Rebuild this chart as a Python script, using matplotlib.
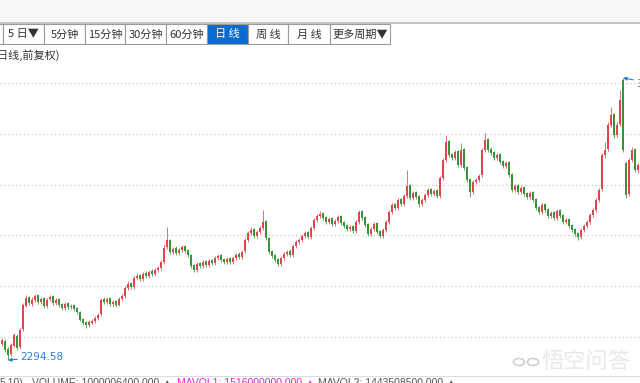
import matplotlib
matplotlib.use("Agg")
import matplotlib.pyplot as plt
from matplotlib.patches import Rectangle, Ellipse
import numpy as np

plt.rcParams["font.family"] = ["Noto Sans CJK SC", "DejaVu Sans"]

# daily candles (index points)
opens = [
    2360, 2370, 2340, 2320, 2352, 2390, 2345, 2418, 2512, 2545,
    2520, 2533, 2553, 2525, 2541, 2509, 2537, 2549, 2521, 2537,
    2517, 2501, 2521, 2505, 2513, 2501, 2485, 2457, 2445, 2433,
    2443, 2449, 2461, 2477, 2537, 2525, 2541, 2517, 2529, 2513,
    2537, 2549, 2581, 2601, 2585, 2621, 2633, 2617, 2641, 2629,
    2649, 2637, 2653, 2661, 2685, 2745, 2773, 2725, 2741, 2721,
    2733, 2749, 2733, 2713, 2673, 2653, 2681, 2669, 2689, 2673,
    2693, 2681, 2701, 2713, 2697, 2685, 2701, 2685, 2701, 2717,
    2705, 2729, 2773, 2801, 2817, 2789, 2805, 2821, 2849, 2781,
    2729, 2713, 2697, 2677, 2701, 2717, 2729, 2713, 2749, 2765,
    2773, 2789, 2805, 2785, 2821, 2853, 2869, 2881, 2865, 2845,
    2861, 2837, 2849, 2869, 2845, 2833, 2817, 2829, 2809, 2845,
    2889, 2865, 2837, 2797, 2817, 2841, 2809, 2789, 2813, 2845,
    2885, 2917, 2901, 2937, 2917, 2949, 2993, 2941, 2965, 2949,
    2917, 2933, 2953, 2977, 2957, 2973, 2949, 3021, 3093, 3169,
    3117, 3101, 3129, 3073, 3137, 3065, 3017, 2965, 3005, 3013,
    3033, 3133, 3177, 3137, 3125, 3101, 3117, 3089, 3069, 3085,
    3037, 2973, 2993, 2965, 2985, 2961, 2945, 2965, 2937, 2905,
    2885, 2917, 2897, 2869, 2885, 2861, 2893, 2873, 2845, 2857,
    2833, 2817, 2801, 2785, 2813, 2829, 2845, 2873, 2893, 2933,
    2977, 3113, 3137, 3233, 3277, 3193, 3237, 3415, 3083, 2957,
    3093, 3137, 3053,
]
highs = [
    2383, 2378, 2348, 2362, 2404, 2398, 2422, 2524, 2556, 2552,
    2545, 2560, 2559, 2548, 2547, 2542, 2556, 2555, 2543, 2544,
    2523, 2527, 2528, 2518, 2519, 2506, 2490, 2463, 2450, 2454,
    2458, 2469, 2482, 2543, 2546, 2548, 2547, 2535, 2536, 2545,
    2559, 2590, 2609, 2608, 2631, 2641, 2640, 2646, 2650, 2655,
    2657, 2662, 2672, 2694, 2760, 2827, 2780, 2747, 2749, 2742,
    2756, 2755, 2739, 2718, 2679, 2686, 2688, 2694, 2695, 2698,
    2700, 2710, 2720, 2719, 2703, 2706, 2708, 2710, 2724, 2725,
    2734, 2782, 2812, 2826, 2824, 2815, 2832, 2895, 2856, 2787,
    2735, 2719, 2703, 2709, 2726, 2735, 2737, 2758, 2775, 2784,
    2799, 2812, 2811, 2830, 2863, 2880, 2889, 2888, 2871, 2866,
    2867, 2858, 2875, 2875, 2851, 2839, 2834, 2835, 2854, 2895,
    2895, 2871, 2842, 2826, 2846, 2847, 2815, 2822, 2854, 2895,
    2923, 2923, 2942, 2943, 2958, 3055, 2999, 2971, 2971, 2955,
    2942, 2962, 2983, 2984, 2979, 2979, 3031, 3103, 3195, 3176,
    3124, 3135, 3135, 3163, 3143, 3071, 3023, 3014, 3023, 3039,
    3143, 3203, 3183, 3145, 3131, 3123, 3123, 3095, 3091, 3091,
    3043, 2999, 2999, 2991, 2991, 2967, 2971, 2971, 2943, 2911,
    2923, 2923, 2903, 2891, 2891, 2899, 2899, 2879, 2863, 2863,
    2839, 2823, 2807, 2823, 2839, 2855, 2883, 2903, 2943, 2983,
    3123, 3167, 3247, 3307, 3283, 3247, 3375, 3423, 3091, 3103,
    3147, 3143, 3083,
]
lows = [
    2352, 2327, 2294.58, 2312, 2346, 2333, 2340, 2412, 2506, 2514,
    2512, 2527, 2518, 2519, 2503, 2503, 2531, 2515, 2514, 2508,
    2495, 2496, 2500, 2499, 2492, 2480, 2449, 2436, 2423, 2428,
    2437, 2444, 2455, 2472, 2520, 2518, 2512, 2511, 2508, 2509,
    2531, 2544, 2575, 2580, 2580, 2615, 2611, 2612, 2624, 2623,
    2632, 2631, 2647, 2655, 2680, 2738, 2720, 2718, 2716, 2715,
    2727, 2724, 2708, 2663, 2647, 2648, 2664, 2663, 2668, 2667,
    2676, 2675, 2695, 2688, 2680, 2679, 2680, 2679, 2695, 2700,
    2699, 2723, 2767, 2795, 2784, 2783, 2799, 2815, 2776, 2719,
    2703, 2688, 2671, 2672, 2695, 2711, 2708, 2707, 2743, 2759,
    2767, 2783, 2780, 2779, 2815, 2847, 2863, 2856, 2840, 2839,
    2832, 2831, 2843, 2836, 2824, 2812, 2811, 2804, 2803, 2839,
    2856, 2828, 2791, 2791, 2811, 2800, 2783, 2783, 2807, 2839,
    2879, 2896, 2895, 2912, 2911, 2943, 2935, 2935, 2940, 2907,
    2911, 2927, 2947, 2952, 2951, 2944, 2943, 3015, 3087, 3107,
    3095, 3095, 3067, 3067, 3055, 3007, 2947, 2959, 2999, 3007,
    3027, 3127, 3127, 3115, 3095, 3095, 3079, 3063, 3063, 3027,
    2967, 2967, 2959, 2959, 2951, 2939, 2939, 2927, 2895, 2879,
    2879, 2887, 2863, 2863, 2855, 2855, 2863, 2839, 2839, 2823,
    2807, 2791, 2775, 2779, 2807, 2823, 2839, 2867, 2887, 2927,
    2971, 3103, 3131, 3225, 3183, 3187, 3231, 3125, 2943, 2951,
    3087, 3047, 3043,
]
closes = [
    2375, 2335, 2315, 2355, 2395, 2343, 2415, 2515, 2543, 2523,
    2535, 2551, 2527, 2539, 2511, 2535, 2547, 2523, 2535, 2515,
    2503, 2519, 2507, 2511, 2499, 2487, 2455, 2443, 2435, 2447,
    2451, 2463, 2475, 2535, 2527, 2539, 2519, 2527, 2515, 2539,
    2551, 2583, 2599, 2587, 2623, 2631, 2619, 2639, 2631, 2647,
    2639, 2655, 2663, 2687, 2743, 2775, 2727, 2739, 2723, 2735,
    2747, 2731, 2715, 2671, 2655, 2679, 2671, 2687, 2675, 2691,
    2683, 2703, 2711, 2695, 2687, 2699, 2687, 2703, 2715, 2707,
    2727, 2775, 2803, 2815, 2791, 2807, 2823, 2847, 2783, 2727,
    2711, 2695, 2679, 2703, 2719, 2727, 2715, 2751, 2767, 2775,
    2791, 2803, 2787, 2823, 2855, 2871, 2879, 2863, 2847, 2859,
    2839, 2851, 2867, 2843, 2831, 2819, 2827, 2811, 2847, 2887,
    2863, 2835, 2799, 2819, 2839, 2807, 2791, 2815, 2847, 2887,
    2915, 2903, 2935, 2919, 2951, 2991, 2943, 2963, 2947, 2919,
    2935, 2955, 2975, 2959, 2971, 2951, 3023, 3095, 3167, 3115,
    3103, 3127, 3075, 3135, 3063, 3015, 2967, 3007, 3015, 3031,
    3135, 3175, 3135, 3123, 3103, 3115, 3087, 3071, 3083, 3035,
    2975, 2991, 2967, 2983, 2959, 2947, 2963, 2935, 2903, 2887,
    2915, 2895, 2871, 2883, 2863, 2891, 2871, 2847, 2855, 2831,
    2815, 2799, 2787, 2815, 2831, 2847, 2875, 2895, 2935, 2975,
    3115, 3135, 3235, 3275, 3195, 3235, 3335, 3135, 2955, 3095,
    3135, 3055, 3075,
]
grid_levels = [2387, 2590, 2793, 2996, 3199, 3402]

tabs = ["", "5 日▼", "5分钟", "15分钟", "30分钟", "60分钟", "日 线", "周 线", "月 线", "更多周期▼"]
active_tab = "日 线"
subtitle = "日线,前复权)"
volume_parts = [
    ("5.10)", "#555555"),
    ("VOLUME: 1000006400.000 ▲", "#555555"),
    ("MAVOL1: 1516000000.000 ▲", "#e020d8"),
    ("MAVOL2: 1443508500.000 ▲", "#555555"),
]
watermark = "悟空问答"

RED = "#e5444f"
GREEN = "#3a923a"
BLUE = "#2a7fd4"

fig = plt.figure(figsize=(6.4, 3.83), dpi=100)
fig.patch.set_facecolor("white")

# price panel
W, H = 640.0, 383.0
top_px, bot_px = 62.0, 366.0
ax = fig.add_axes([0, (H - bot_px) / H, 1, (bot_px - top_px) / H])
ax.set_facecolor("white")

o = np.array(opens, dtype=float)
h = np.array(highs, dtype=float)
l = np.array(lows, dtype=float)
c = np.array(closes, dtype=float)
idx = np.arange(len(c))
colors = np.where(c >= o, RED, GREEN)

ax.vlines(idx, l, h, colors=colors, linewidth=0.55, zorder=3)
body_bottom = np.minimum(o, c)
body_height = np.maximum(np.abs(c - o), 2.5)
ax.bar(idx, body_height, bottom=body_bottom, width=0.55, color=colors,
       linewidth=0, zorder=4)

ax.set_xlim(-2 / 3, len(c) - 1 + 2 / 3)
ax.set_ylim(3735 - 4 * bot_px, 3735 - 4 * top_px)
ax.set_yticks(grid_levels)
ax.yaxis.grid(True, color="#bdbdbd", linestyle=(0, (1, 2.5)), linewidth=0.8)
ax.tick_params(left=False, labelleft=False, bottom=False, labelbottom=False)
for s in ax.spines.values():
    s.set_visible(False)

i_lo = int(np.argmin(l))
ax.annotate(f"{l[i_lo]:.2f}", xy=(i_lo, l[i_lo]), xytext=(12, 3),
            textcoords="offset pixels", ha="left", va="center",
            fontsize=7.5, color=BLUE, family="DejaVu Sans",
            arrowprops=dict(arrowstyle="-|>", color=BLUE, lw=0.8,
                            mutation_scale=5, shrinkA=0, shrinkB=0),
            zorder=6)
i_hi = int(np.argmax(h))
ax.annotate(f"{h[i_hi]:.2f}", xy=(i_hi, h[i_hi]), xytext=(13, -6),
            textcoords="offset pixels", ha="left", va="center",
            fontsize=7.5, color=BLUE, family="DejaVu Sans",
            arrowprops=dict(arrowstyle="-|>", color=BLUE, lw=0.8,
                            mutation_scale=5, shrinkA=0, shrinkB=0),
            annotation_clip=False, zorder=6)

# interface chrome in pixel coordinates
ui = fig.add_axes([0, 0, 1, 1], zorder=5)
ui.set_xlim(0, W)
ui.set_ylim(H, 0)
ui.axis("off")
ui.patch.set_visible(False)

ui.add_patch(Rectangle((0, 0), W, 22, facecolor="#f8f8f8", edgecolor="none"))
ui.plot([0, W], [22.5, 22.5], color="#c4c4c4", linewidth=1.5)

tab_edges = [-5, 3, 44, 85, 125, 166, 207, 248, 288, 330, 390]
for k, label in enumerate(tabs):
    x0, x1 = tab_edges[k], tab_edges[k + 1]
    active = label == active_tab
    ui.add_patch(Rectangle((x0, 24), x1 - x0, 20,
                           facecolor="#0a6ccf" if active else "white",
                           edgecolor="#9a9a9a", linewidth=0.8))
    ui.text((x0 + x1) / 2, 34.5, label, ha="center", va="center",
            fontsize=8, color="white" if active else "#333333")

ui.text(-3, 55, subtitle, ha="left", va="center", fontsize=8, color="#333333")

ui.plot([0, W], [375.5, 375.5], color="#dddddd", linewidth=0.8)
for xpos, (txt, col) in zip([0, 32, 177, 318], volume_parts):
    ui.text(xpos, 378.5, txt, ha="left", va="top", fontsize=7.5, color=col,
            family=["Liberation Sans", "DejaVu Sans"])

# watermark
ui.add_patch(Ellipse((519, 362), 11, 7, facecolor="none", edgecolor="#d0d0d0", lw=1.2))
ui.add_patch(Ellipse((533, 362), 11, 7, facecolor="none", edgecolor="#d0d0d0", lw=1.2))
ui.text(586, 361, watermark, ha="center", va="center", fontsize=16,
        color="#e6e6e6", alpha=0.9)

fig.savefig("out.png", dpi=100, facecolor=fig.get_facecolor())
